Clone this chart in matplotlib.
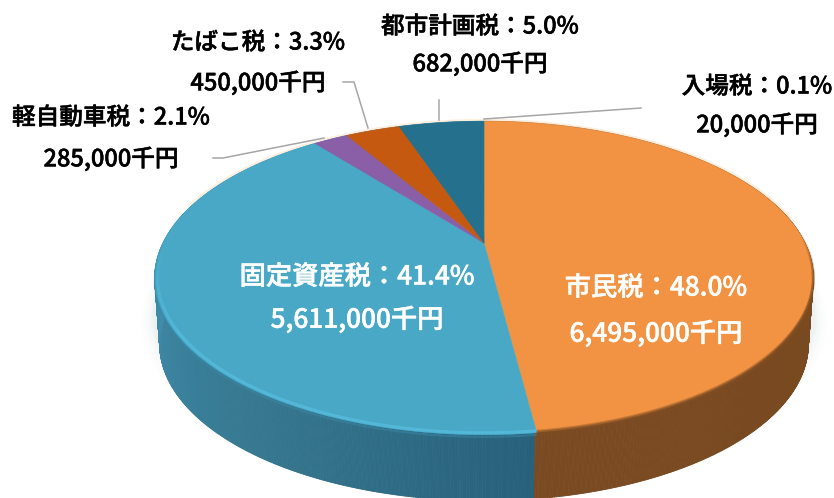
import numpy as np
import matplotlib
matplotlib.use("Agg")
import matplotlib.pyplot as plt
import matplotlib.patheffects as pe
from matplotlib.collections import PolyCollection, LineCollection
from matplotlib.patches import Polygon
from matplotlib.colors import to_rgb

plt.rcParams['font.family'] = ['Noto Sans CJK JP', 'DejaVu Sans']

# --- data (clockwise from 12 o'clock) ---
names = ['市民税', '固定資産税', '軽自動車税', 'たばこ税', '都市計画税', '入場税']
amounts = [6495000, 5611000, 285000, 450000, 682000, 20000]
percents = [48.0, 41.4, 2.1, 3.3, 5.0, 0.1]
colors = ['#F29343', '#48A8C6', '#8A5FA8', '#C5590F', '#25708C', '#25708C']
text_colors = ['white', 'white', 'black', 'black', 'black', 'black']
label_xy = [(656, 288, 334), (357, 277, 320), (111, 118, 159),
            (258, 43, 83), (480, 27, 64), (757, 87, 125)]
label_sizes = [18.9, 18.9, 17.0, 17.0, 17.0, 17.0]
leaders = [None, None,
           [(213, 158), (223, 158), (324, 138)],
           [(343, 82), (354, 82), (368, 128)],
           [(439, 100), (439, 120)],
           [(484, 119), (641, 108)]]

# wall colour ramps (angle clockwise from top, degrees -> colour)
wall_ang = [60, 110, 172.8, 173, 215, 250, 280]
wall_rgb = np.array([to_rgb(c) for c in
                     ['#6E451F', '#794A20', '#7A4A22', '#27607B', '#36788F', '#3D86A4', '#4193B4']])

# projection of the pie disc
CX, CY, A, B, K, DEPTH = 484, 243, 321, 149, 0.223, 66


def proj(theta, r=1.0, drop=0.0, shrink=1.0):
    u, v = r * np.sin(theta), -r * np.cos(theta)
    s = 1 / (1 - K * v)
    return CX + A * u * s * shrink, CY + B * v * s + drop


def faded_rim(lo, hi, r, col, peak, lw, zorder, dy=0.0):
    """Rim stroke whose opacity grows toward the viewer."""
    t = np.linspace(lo, hi, 400)
    x, y = proj(t, r=r)
    pts = np.c_[x, y + dy]
    segs = np.stack([pts[:-1], pts[1:]], axis=1)
    a = peak * np.clip((-np.cos(t[:-1]) + 0.05) / 0.6, 0, 1)
    rgba = np.c_[np.tile(to_rgb(col), (len(a), 1)), a]
    ax.add_collection(LineCollection(segs, colors=rgba, linewidths=lw, zorder=zorder,
                                     capstyle='butt'))


fig = plt.figure(figsize=(8.34, 4.98), dpi=100)
ax = fig.add_axes([0, 0, 1, 1])
ax.set_xlim(0, 834)
ax.set_ylim(498, 0)
ax.axis('off')

th = np.radians(np.linspace(0, 360, 1441))

# soft shadow below the disc
for grow, alpha in zip([13, 10, 7, 4, 2], [0.012, 0.015, 0.02, 0.025, 0.03]):
    x, y = proj(th, drop=DEPTH * 0.55, shrink=(321 + grow) / 321)
    ax.fill(x, y + grow * 0.7, color='#5d7f95', alpha=alpha, lw=0, zorder=1)

# side wall
t0, t1 = th[:-1], th[1:]
x0, y0 = proj(t0)
x1, y1 = proj(t1)
x2, y2 = proj(t1, drop=DEPTH, shrink=0.985)
x3, y3 = proj(t0, drop=DEPTH, shrink=0.985)
polys = np.stack([np.c_[x0, y0], np.c_[x1, y1], np.c_[x2, y2], np.c_[x3, y3]], axis=1)
deg = np.degrees(t0)
wall_cols = np.c_[[np.interp(deg, wall_ang, wall_rgb[:, i]) for i in range(3)]].T
ax.add_collection(PolyCollection(polys, facecolors=wall_cols, edgecolors=wall_cols,
                                 linewidths=0.6, zorder=2))

# top surface wedges, driven by the values
fractions = np.array(amounts) / np.sum(amounts)
edges = np.concatenate([[0], np.cumsum(fractions)]) * 2 * np.pi
for i, c in enumerate(colors):
    t = np.linspace(edges[i], edges[i + 1], 200)
    x, y = proj(t)
    ax.add_patch(Polygon(np.c_[np.r_[CX, x], np.r_[CY, y]], closed=True, fc=c, ec=c,
                         lw=0.4, zorder=3))

# soft bevel on the front rim of the two large wedges
for dy, al in [(3.5, 0.9), (2.0, 0.6), (0.8, 0.35)]:
    faded_rim(edges[0], edges[1], 1.0, '#7E4C22', al, 2.0, 4, dy=dy - 2.5)
faded_rim(edges[1], edges[2], 0.992, '#5CC4E6', 0.6, 2.2, 4)
faded_rim(edges[1], edges[2], 1.0, '#3B88A6', 0.55, 1.6, 4, dy=2)

# pale halo on the far rim
t = np.radians(np.linspace(-75, 80, 300))
hx, hy = proj(t, r=1.006)
ax.plot(hx, hy - 0.6, color='#FCE9D2', lw=1.6, alpha=0.7, zorder=2.5)

# leader lines
for pts in leaders:
    if pts:
        lx, ly = zip(*pts)
        ax.plot(lx, ly, color='#A6A6A6', lw=1.1, zorder=5)

# labels
for name, amt, pct, (lx, ly1, ly2), tc, fs in zip(names, amounts, percents, label_xy,
                                                  text_colors, label_sizes):
    for ly, s in [(ly1, f'{name}：{pct:.1f}%'), (ly2, f'{amt:,}千円')]:
        ax.text(lx, ly, s, color=tc, fontsize=fs, weight='medium', ha='center', va='center',
                zorder=6, path_effects=[pe.withStroke(linewidth=0.35, foreground=tc)])

fig.savefig('out.png', dpi=100, facecolor='white')
